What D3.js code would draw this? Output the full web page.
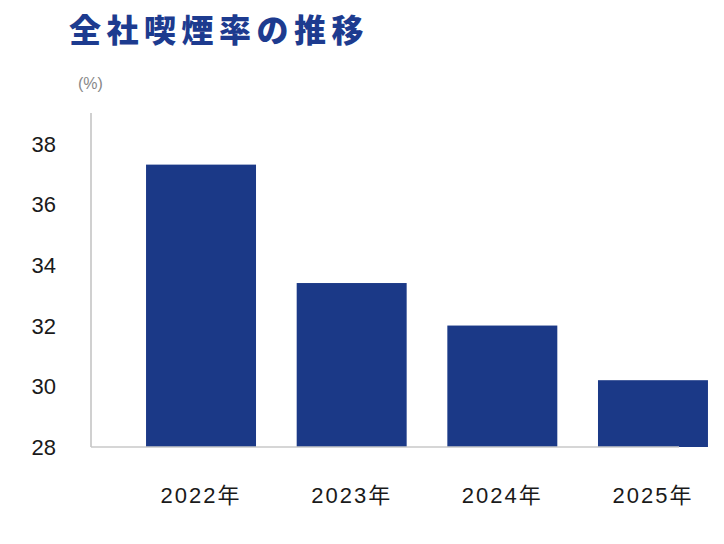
<!DOCTYPE html>
<html>
<head>
<meta charset="utf-8">
<script src="https://cdn.jsdelivr.net/npm/d3@7"></script>
<style>
html,body{margin:0;padding:0;background:#fff;}
svg{display:block;}
</style>
</head>
<body>
<svg id="chart" width="724" height="544"></svg>
<script>
const categories = ["2022年", "2023年", "2024年", "2025年"];
const values = [37.3, 33.4, 32.0, 30.2];
const yTicks = [28, 30, 32, 34, 36, 38];
const title = "全社喫煙率の推移";
const unitLabel = "(%)";

const svg = d3.select("#chart");
const barColor = "#1b3987";
const latin = "'Liberation Sans', Arial, 'Noto Sans CJK JP', sans-serif";

const y = d3.scaleLinear().domain([28, 39]).range([447, 113]);
const x = d3.scaleBand().domain(categories).range([125.7, 728.3])
  .paddingInner(0.27).paddingOuter(0.135);

// title
svg.append("text")
  .attr("x", 69).attr("y", 42)
  .attr("font-family", "'Noto Sans CJK JP', sans-serif")
  .attr("font-weight", 900)
  .attr("font-size", 32)
  .attr("letter-spacing", 5.5)
  .attr("fill", "#1d3b8f")
  .text(title);

// unit label
svg.append("text")
  .attr("x", 78).attr("y", 89)
  .attr("font-family", latin)
  .attr("font-size", 16)
  .attr("fill", "#888")
  .text(unitLabel);

// bars
svg.append("g").selectAll("rect")
  .data(values)
  .join("rect")
  .attr("x", (d, i) => x(categories[i]))
  .attr("width", x.bandwidth())
  .attr("y", d => y(d))
  .attr("height", d => y(28) - y(d))
  .attr("fill", barColor);

// axis lines
svg.append("line")
  .attr("x1", 91).attr("x2", 91)
  .attr("y1", y(39)).attr("y2", y(28))
  .attr("stroke", "#d0d0d0").attr("stroke-width", 2);
svg.append("line")
  .attr("x1", 91).attr("x2", 679)
  .attr("y1", y(28)).attr("y2", y(28))
  .attr("stroke", "#c8c8c8").attr("stroke-width", 1.5);

// y tick labels
const yAxis = d3.axisLeft(y).tickValues(yTicks).tickSize(0).tickPadding(0);
const gy = svg.append("g").attr("transform", "translate(56,0)").call(yAxis);
gy.select(".domain").remove();
gy.selectAll("text")
  .attr("font-family", latin)
  .attr("font-size", 22)
  .attr("fill", "#1a1a1a")
  .attr("dy", "0.35em");

// x tick labels
const xAxis = d3.axisBottom(x).tickSize(0).tickPadding(0);
const gx = svg.append("g").attr("transform", "translate(0,503)").call(xAxis);
gx.select(".domain").remove();
gx.selectAll("text")
  .attr("font-family", latin)
  .attr("font-size", 22)
  .attr("letter-spacing", 2)
  .attr("fill", "#1a1a1a")
  .attr("dy", 0);
</script>
</body>
</html>
